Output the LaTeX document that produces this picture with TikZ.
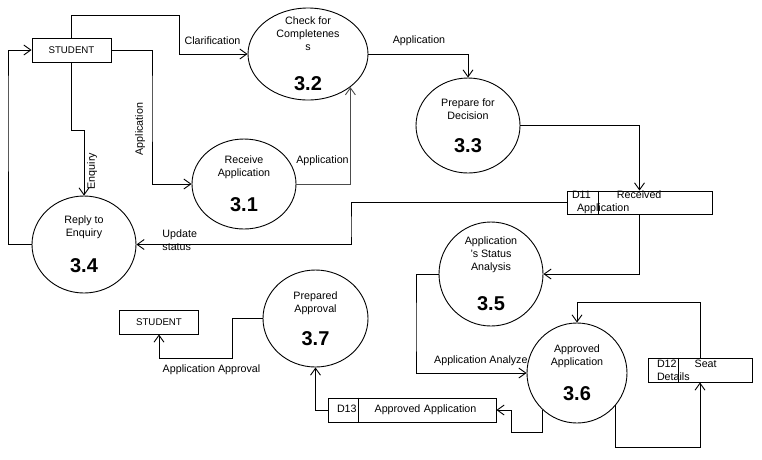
\documentclass[tikz,border=0pt]{standalone}
\usepackage{fontspec}
\setmainfont{Liberation Sans}
\usetikzlibrary{shapes.geometric,arrows.meta}

\tikzset{
  bubble/.style={draw, ellipse, inner sep=-20pt, align=center},
  store/.style={draw, inner sep=0pt, minimum height=23pt, align=left},
  entity/.style={draw, inner sep=0pt, minimum width=79pt, minimum height=24pt, font=\fontsize{9.7}{12}\selectfont},
  flow/.style={-{Straight Barb[length=7pt,width=10pt]}},
  lbl/.style={inner sep=0pt},
}
\newcommand{\pnum}{\fontsize{20}{20}\selectfont\bfseries}

\begin{document}
\begin{tikzpicture}[x=1pt, y=-1pt, line width=0.9pt, every node/.append style={font=\fontsize{10.7}{13}\selectfont}]
	\useasboundingbox (0,0) rectangle (762,459);
	% external entities
	\node[entity] (s1) at (71.5,50) {STUDENT};
	\node[entity] (s2) at (159,322) {STUDENT};
	% processes
	\node[bubble, minimum width=104pt, minimum height=90pt] (p31) at (244,184) {Receive\\Application\\[17.7pt]\pnum 3.1};
	\node[bubble, minimum width=120pt, minimum height=92pt] (p32) at (308,54) {Check for\\Completenes\\s\\[24.7pt]\pnum 3.2};
	\node[bubble, minimum width=104pt, minimum height=95pt] (p33) at (468,125.5) {Prepare for\\Decision\\[17.7pt]\pnum 3.3};
	\node[bubble, minimum width=104pt, minimum height=97pt] (p34) at (84,244.5) {Reply to\\Enquiry\\[18.7pt]\pnum 3.4};
	\node[bubble, minimum width=104pt, minimum height=104pt] (p35) at (491,274) {Application\\'s Status\\Analysis\\[22.7pt]\pnum 3.5};
	\node[bubble, minimum width=100pt, minimum height=100pt] (p36) at (577,373) {Approved\\Application\\[17.7pt]\pnum 3.6};
	\node[bubble, minimum width=105pt, minimum height=97pt] (p37) at (315.5,318.5) {Prepared\\Approval\\[15.7pt]\pnum 3.7};
	% data stores
	\node[store, minimum width=145pt, text width=135pt] (d11) at (639.5,202.5) {D11\hspace{26pt}Received\\\hspace*{5pt}Application};
	\node[store, minimum width=104pt, text width=86pt, minimum height=24pt] (d12) at (700,370) {D12\hspace{18pt}Seat\\Details};
	\node[store, minimum width=168pt, text width=150pt, minimum height=24pt] (d13) at (412,410) {D13\hspace{18pt}Approved Application};
	\foreach \s/\d in {d11/32,d12/31,d13/31}
		\draw ([xshift=\d pt]\s.north west) -- ([xshift=\d pt]\s.south west);
	% flows
	\draw[flow] (s1.north) |- (179,15) |- (p32.west);
	\draw[flow] (s1.east) -| (152,100) |- (p31.west);
	\draw[flow] (s1.south) |- (84,130) -- (p34.north);
	\draw[flow, draw=black!70] (p31.east) -| (p32.-38);
	\draw[flow] (p32.east) -| (p33.north);
	\draw[flow] (p33.east) -| (d11.north);
	\draw[flow] (d11.west) -| (351,230) |- (p34.east);
	\draw[flow] (p34.west) -| (8,100) |- (s1.west);
	\draw[flow] (d11.south) |- (p35.east);
	\draw[flow] (p35.west) -| (416,330) |- (p36.west);
	\draw[flow] (d12.north) |- (577,302) -- (p36.north);
	\draw[flow] (p36.-40) |- (700,447) -- (d12.south);
	\draw[flow] (p36.-133) |- (511,432) |- (d13.east);
	\draw[flow] (d13.west) -| (p37.south);
	\draw[flow] (p37.west) -| (232,358) -| (s2.south);
	% flow labels
	\node[lbl] (lclar) at (212.5,41) {Clarification};
	\node[lbl] (lapp1) at (419,41) {Application};
	\node[lbl, rotate=90] (lapp2) at (140,129) {Application};
	\node[lbl, rotate=90] (lenq) at (92,171) {Enquiry};
	\node[lbl] (lapp3) at (322.5,161) {Application};
	\node[lbl, align=left, anchor=west] (lupd) at (162,240) {Update\\status};
	\node[lbl, anchor=east] (lana) at (528,361) {Application Analyze};
	\node[lbl] (lappr) at (211.5,370) {Application Approval};
\end{tikzpicture}
\end{document}
